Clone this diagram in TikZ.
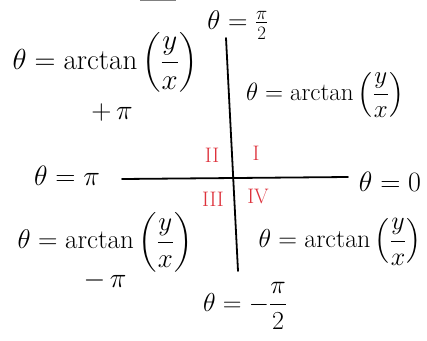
\RequirePackage{fix-cm}
\documentclass[tikz,border=0pt]{standalone}
\usepackage{amsmath}
\usepackage{fontspec}
\definecolor{quadred}{RGB}{222,50,60}
\begin{document}
\begin{tikzpicture}[x=1pt,y=-1pt,
  lbl/.style={inner sep=0pt, font=\fontsize{#1}{#1}\selectfont},
  lbl/.default=27,
  quad/.style={inner sep=0pt, text=quadred, font=\fontsize{21}{22}\selectfont},
  axis/.style={line width=1.8pt, line cap=round}]
\useasboundingbox (0,0) rectangle (427,340);
\fill[white] (0,0) rectangle (427,340);
% axes
\coordinate (vt) at (226,38);
\coordinate (vb) at (238,271);
\coordinate (hl) at (122,179);
\coordinate (hr) at (348,177);
\draw[axis] (vt) -- (vb);
\draw[axis] (hl) -- (hr);
% fragment at top edge
\coordinate (fa) at (140,0);
\coordinate (fb) at (176,0);
\draw[line width=1.5pt, gray] (fa) -- (fb);
% axis labels
\node[lbl=27] (top) at (238,25) {$\theta = \tfrac{\pi}{2}$};
\node[lbl=28] (left) at (67,176) {$\theta = \pi$};
\node[lbl=28] (right) at (390,182) {$\theta = 0$};
\node[lbl=26] (bottom) at (245,306) {$\theta = -\dfrac{\pi}{2}$};
% quadrant formulas
\node[lbl=29] (tl) at (105,62) {$\theta = \arctan\left(\dfrac{y}{x}\right)$};
\node[lbl=28] (tlp) at (112,112) {$+\,\pi$};
\node[lbl=25] (tr) at (325,95) {$\theta = \arctan\left(\dfrac{y}{x}\right)$};
\node[lbl=27] (bl) at (105,242) {$\theta = \arctan\left(\dfrac{y}{x}\right)$};
\node[lbl=28] (blm) at (105,280) {$-\,\pi$};
\node[lbl=26] (br) at (340,242) {$\theta = \arctan\left(\dfrac{y}{x}\right)$};
% quadrant numerals
\node[quad] (q2) at (212,155) {II};
\node[quad] (q1) at (256,153) {I};
\node[quad] (q3) at (213,199) {III};
\node[quad] (q4) at (258,196) {IV};
\end{tikzpicture}
\end{document}
